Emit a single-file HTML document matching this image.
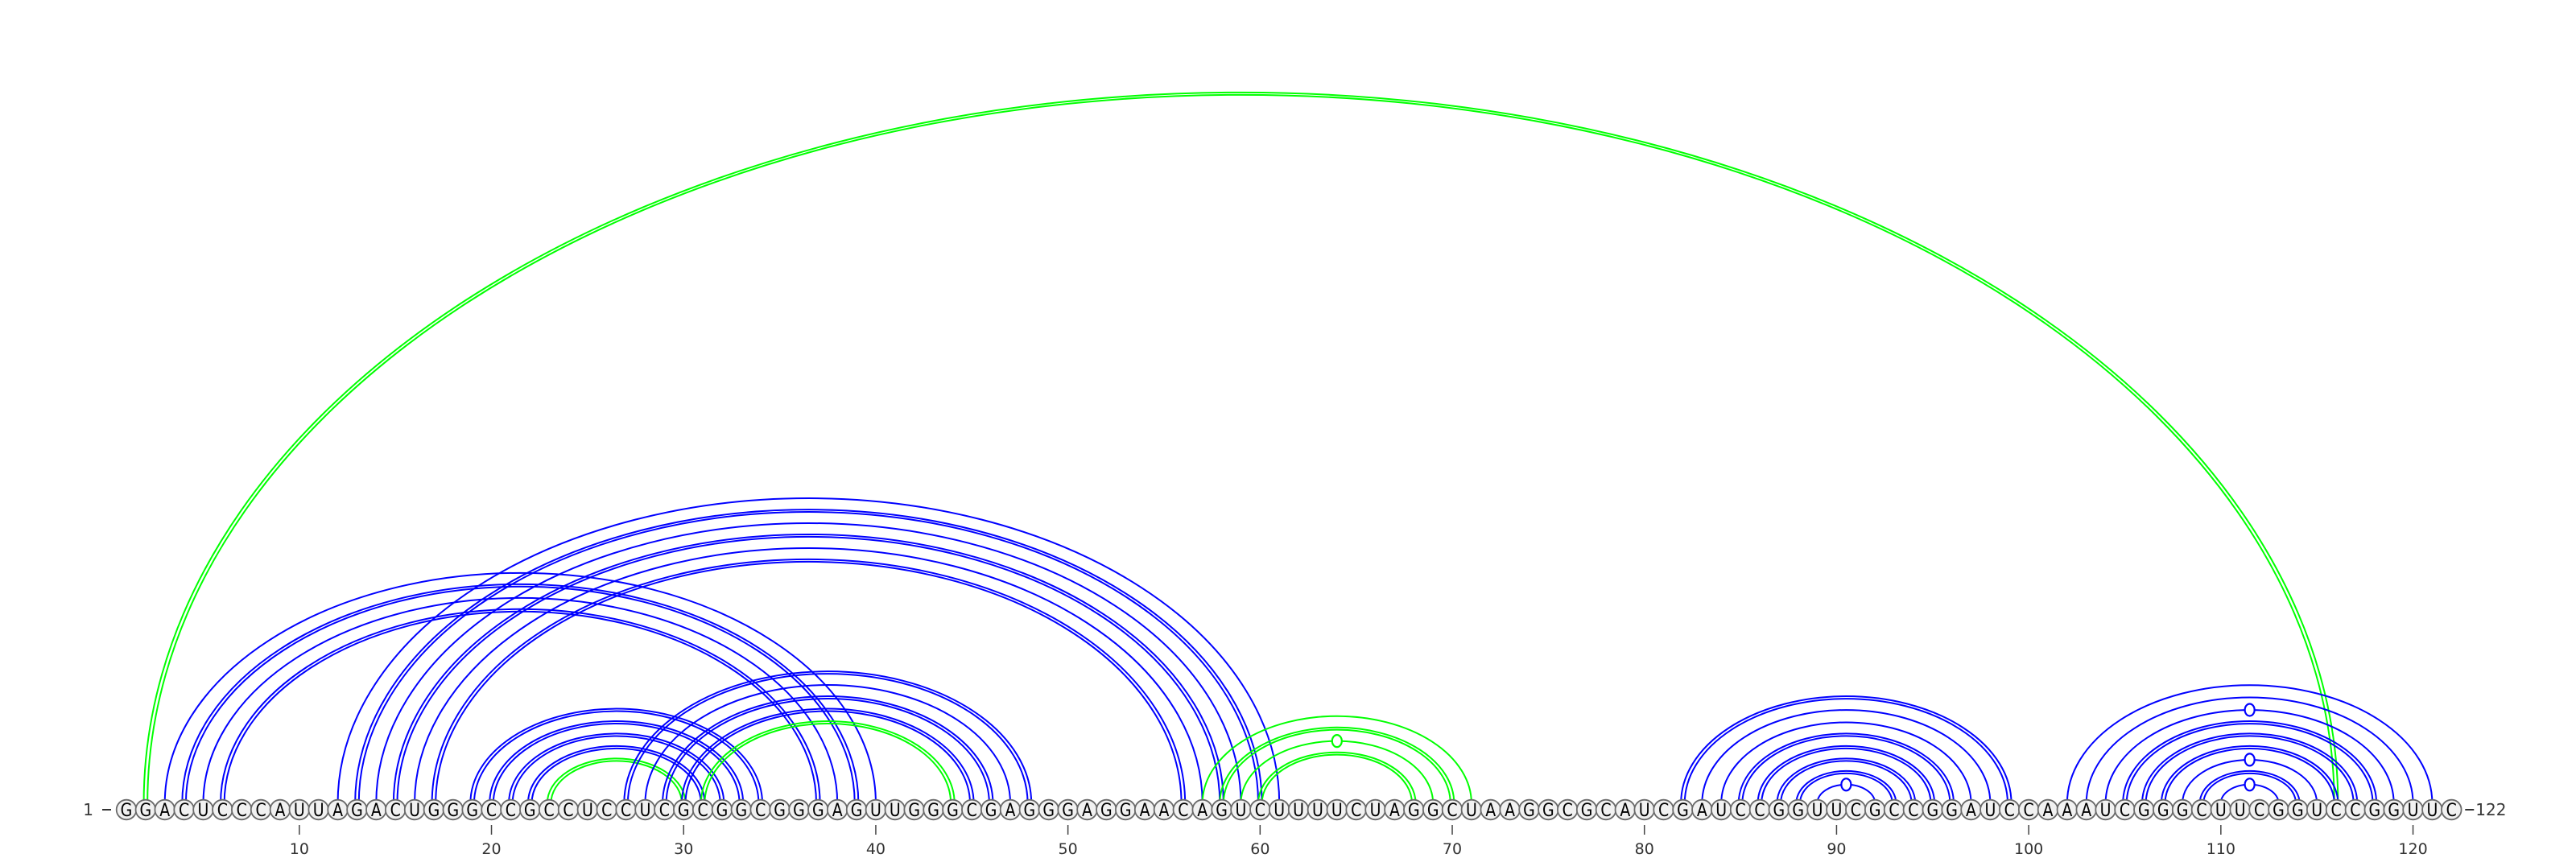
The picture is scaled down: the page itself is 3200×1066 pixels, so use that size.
<!DOCTYPE html>
<html><head><meta charset="utf-8"><style>
html,body{margin:0;padding:0;background:#fff;}
svg{display:block;}
text{font-family:"DejaVu Sans","Liberation Sans",sans-serif;}
</style></head><body>
<svg id="chart" width="3200" height="1066" viewBox="0 0 3200 1066" xmlns="http://www.w3.org/2000/svg">
<g id="arcs"></g>
<g id="bases"></g>
<g id="ticks"></g>
</svg>
<script>
const sequence = "GGACUCCCAUUAGACUGGGCCGCCUCCUCGCGGCGGGAGUUGGGCGAGGGAGGAACAGUCUUUUCUAGGCUAAGGCGCAUCGAUCCGGUUCGCCGGAUCCAAAUCGGGCUUCGGUCCGGUUC";
const pairI =  [2,  3, 4, 5, 6, 12,13,14,15,16,17, 19,20,21,22,23, 27,28,29,30,31, 57,58,59,60, 82,83,84,85,86,87,88,89, 102,103,104,105,106,107,108,109,110];
const pairJ =  [116,40,39,38,37, 61,60,59,58,57,56, 34,33,32,31,30, 48,47,46,45,44, 71,70,69,68, 99,98,97,96,95,94,93,92, 121,120,119,118,117,116,115,114,113];
const pairColor = ["g","b","b","b","b","b","b","b","b","b","b","b","b","b","b","g","b","b","b","b","g","g","g","g","g","b","b","b","b","b","b","b","b","b","b","b","b","b","b","b","b","b"];
const pairDouble = [1,0,1,0,1, 0,1,0,1,0,1, 1,1,1,1,1, 1,0,1,1,1, 0,1,0,1, 1,0,0,1,1,1,1,0, 0,0,0,1,1,1,0,1,0];
const pairWobble = [0,0,0,0,0, 0,0,0,0,0,0, 0,0,0,0,0, 0,0,0,0,0, 0,0,1,0, 0,0,0,0,0,0,0,1, 0,0,1,0,0,0,1,0,1];
const tickValues = [10,20,30,40,50,60,70,80,90,100,110,120];

const NS = "http://www.w3.org/2000/svg";
const X0 = 157, STEP = 23.87, BASE_Y = 1006, ARC_Y = 998, K = 0.648;
function xPos(i){ return X0 + (i-1)*STEP; }
function mk(tag, attrs, parent){
  const e = document.createElementNS(NS, tag);
  for (const k in attrs) e.setAttribute(k, attrs[k]);
  parent.appendChild(e);
  return e;
}
const arcs = document.getElementById('arcs');
const bases = document.getElementById('bases');
const ticks = document.getElementById('ticks');

function arcPath(x1, x2, off){
  const rx = (x2 - x1)/2 + off;
  const ry = rx*K;
  return `M ${x1-off} ${ARC_Y} A ${rx} ${ry} 0 0 1 ${x2+off} ${ARC_Y}`;
}
for (let p = 0; p < pairI.length; p++){
  const x1 = xPos(pairI[p]), x2 = xPos(pairJ[p]);
  const col = pairColor[p] === "g" ? "#00ff00" : "#0000ff";
  const offs = pairDouble[p] ? [-2.3, 2.3] : [0];
  for (const o of offs){
    const a = mk('path', {d: arcPath(x1, x2, o), fill: 'none', stroke: col, 'stroke-width': 2}, arcs);
    
    
  }
  if (pairWobble[p]){
    const rx = (x2-x1)/2;
    const w = mk('ellipse', {cx: (x1+x2)/2, cy: ARC_Y - rx*K, rx: 6, ry: 7.5, fill: '#fff', stroke: col, 'stroke-width': 2.2}, arcs);
    
    
  }
}
for (let i = 1; i <= sequence.length; i++){
  const g = mk('g', {}, bases);
  
  
  mk('circle', {cx: xPos(i), cy: BASE_Y, r: 12.3, fill: '#f1f1f1', stroke: '#6a6a6a', 'stroke-width': 1.8}, g);
  const t = mk('text', {x: xPos(i), y: BASE_Y + 8, 'text-anchor': 'middle', 'font-size': 22, fill: '#000', 'transform': `translate(${xPos(i)} 0) scale(0.86 1) translate(${-xPos(i)} 0)`}, g);
  t.textContent = sequence[i-1];
}
const startLbl = mk('text', {x: 116, y: BASE_Y + 7, 'text-anchor': 'end', 'font-size': 20, fill: '#3a3a3a'}, ticks);
startLbl.textContent = "1";


mk('line', {x1: 127, x2: 138, y1: BASE_Y, y2: BASE_Y, stroke: '#333', 'stroke-width': 2}, ticks);
const endX = xPos(sequence.length);
mk('line', {x1: endX + 17, x2: endX + 28, y1: BASE_Y, y2: BASE_Y, stroke: '#333', 'stroke-width': 2}, ticks);
const endLbl = mk('text', {x: endX + 30, y: BASE_Y + 7, 'font-size': 20, fill: '#3a3a3a'}, ticks);
endLbl.textContent = String(sequence.length);


for (const v of tickValues){
  const tl = mk('line', {x1: xPos(v), x2: xPos(v), y1: 1025, y2: 1037, stroke: '#444', 'stroke-width': 1.5}, ticks);
  
  
  const lb = mk('text', {x: xPos(v), y: 1061, 'text-anchor': 'middle', 'font-size': 19, fill: '#333'}, ticks);
  lb.textContent = String(v);
  
  
}
</script>
</body></html>
